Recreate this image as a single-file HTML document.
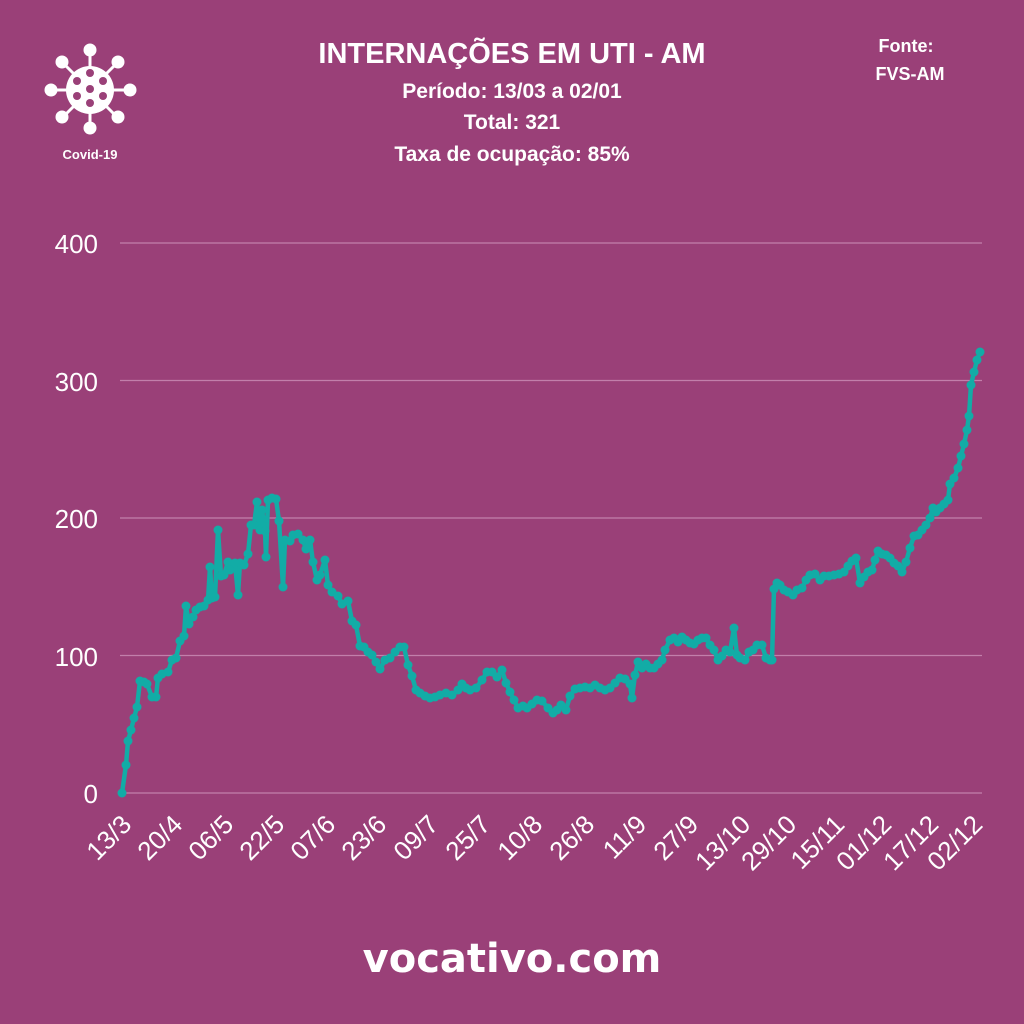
<!DOCTYPE html>
<html><head><meta charset="utf-8"><style>
body{margin:0;background:#9a4078;}
svg{display:block}
text{font-family:"Liberation Sans",sans-serif;fill:#fff}
</style></head><body>
<svg width="1024" height="1024" viewBox="0 0 1024 1024">
<defs>
<marker id="m" markerUnits="userSpaceOnUse" markerWidth="12" markerHeight="12" refX="6" refY="6"><circle cx="6" cy="6" r="4.5" fill="#12aca6"/></marker>
</defs>
<rect width="1024" height="1024" fill="#9a4078"/>
<g stroke="#fff" stroke-width="3" fill="#fff">
<line x1="90" y1="52" x2="90" y2="128"/><line x1="52" y1="90" x2="128" y2="90"/>
<line x1="63" y1="63" x2="117" y2="117"/><line x1="117" y1="63" x2="63" y2="117"/>
<circle cx="90" cy="50" r="5"/><circle cx="90" cy="128" r="5"/><circle cx="51" cy="90" r="5"/><circle cx="130" cy="90" r="5"/>
<circle cx="62" cy="62" r="5"/><circle cx="118" cy="62" r="5"/><circle cx="62" cy="117" r="5"/><circle cx="118" cy="117" r="5"/>
<circle cx="90" cy="90" r="24" stroke="none"/>
</g>
<g fill="#9a4078"><circle cx="90" cy="73" r="4"/><circle cx="77" cy="81" r="4"/><circle cx="103" cy="81" r="4"/><circle cx="90" cy="89" r="4"/><circle cx="77" cy="96" r="4"/><circle cx="103" cy="96" r="4"/><circle cx="90" cy="103" r="4"/></g>
<text x="90" y="159" font-size="13" font-weight="bold" text-anchor="middle">Covid-19</text>
<text x="512" y="63" font-size="29" font-weight="bold" text-anchor="middle">INTERNAÇÕES EM UTI - AM</text>
<text x="512" y="98" font-size="21" font-weight="bold" text-anchor="middle">Período: 13/03 a 02/01</text>
<text x="512" y="129" font-size="21" font-weight="bold" text-anchor="middle">Total: 321</text>
<text x="512" y="161" font-size="21" font-weight="bold" text-anchor="middle">Taxa de ocupação: 85%</text>
<text x="906" y="52" font-size="18" font-weight="bold" text-anchor="middle">Fonte:</text>
<text x="910" y="80" font-size="18" font-weight="bold" text-anchor="middle">FVS-AM</text>
<g stroke="#c27fab" stroke-width="1.2">
<line x1="120" y1="243" x2="982" y2="243"/><line x1="120" y1="380.5" x2="982" y2="380.5"/>
<line x1="120" y1="518" x2="982" y2="518"/><line x1="120" y1="655.5" x2="982" y2="655.5"/><line x1="120" y1="793" x2="982" y2="793"/>
</g>
<g font-size="26" text-anchor="end">
<text x="98" y="253">400</text><text x="98" y="391">300</text><text x="98" y="528">200</text><text x="98" y="666">100</text><text x="98" y="803">0</text>
</g>
<g font-size="26" text-anchor="end">
<text transform="translate(133,826) rotate(-45)">13/3</text>
<text transform="translate(184,826) rotate(-45)">20/4</text>
<text transform="translate(235,826) rotate(-45)">06/5</text>
<text transform="translate(286,826) rotate(-45)">22/5</text>
<text transform="translate(337,826) rotate(-45)">07/6</text>
<text transform="translate(388,826) rotate(-45)">23/6</text>
<text transform="translate(440,826) rotate(-45)">09/7</text>
<text transform="translate(492,826) rotate(-45)">25/7</text>
<text transform="translate(544,826) rotate(-45)">10/8</text>
<text transform="translate(596,826) rotate(-45)">26/8</text>
<text transform="translate(648,826) rotate(-45)">11/9</text>
<text transform="translate(700,826) rotate(-45)">27/9</text>
<text transform="translate(752,826) rotate(-45)">13/10</text>
<text transform="translate(798,826) rotate(-45)">29/10</text>
<text transform="translate(846,826) rotate(-45)">15/11</text>
<text transform="translate(893,826) rotate(-45)">01/12</text>
<text transform="translate(940,826) rotate(-45)">17/12</text>
<text transform="translate(984,826) rotate(-45)">02/12</text>
</g>
<polyline fill="none" stroke="#12aca6" stroke-width="4.5" stroke-linejoin="round" marker-start="url(#m)" marker-mid="url(#m)" marker-end="url(#m)" points="122,793 126,765 128,741 131,730 134,718 137,707 140,681 144,682 147,684 152,697 156,697 158,678 162,674 168,672 172,660 176,658 180,641 184,636 186,606 189,624 193,617 196,610 200,607 204,606 208,600 210,567 212,598 215,597 218,530 221,576 224,575 228,562 230,570 235,563 238,595 240,563 244,565 248,554 251,525 254,525 257,502 260,530 262,510 265,531 266,557 268,500 272,498 276,499 279,521 283,587 285,540 290,541 293,535 298,534 303,540 306,549 310,540 313,562 317,580 320,575 325,560 328,585 332,592 338,596 342,604 348,601 352,621 356,625 360,646 364,647 368,652 372,655 376,662 380,669 385,660 390,658 395,652 400,647 404,647 408,665 412,676 416,690 420,693 425,696 430,698 435,697 440,695 446,693 452,695 458,690 462,684 466,688 470,690 476,688 482,680 487,672 492,672 497,677 502,670 506,683 510,692 514,700 518,708 523,706 527,708 532,704 537,700 542,701 548,708 553,713 557,710 561,705 566,710 570,696 575,689 580,688 585,687 590,688 595,685 600,688 605,690 610,688 615,683 620,678 625,679 630,684 632,698 635,675 638,662 642,668 646,664 650,668 654,668 658,664 662,660 665,650 670,640 674,638 678,642 682,637 686,640 690,643 694,644 698,640 702,638 706,638 710,645 714,650 718,660 722,656 726,650 730,652 734,628 737,655 740,658 745,660 749,652 753,650 757,645 762,645 766,658 770,660 772,660 774,589 777,583 780,585 784,590 788,592 793,595 797,590 802,588 806,580 810,575 815,574 820,580 824,576 829,576 834,575 839,574 844,572 848,566 852,561 856,558 860,583 864,577 868,572 872,570 875,560 878,551 882,554 886,555 890,558 894,563 898,566 902,572 906,562 910,548 914,536 918,535 922,530 926,525 930,518 933,508 936,512 940,508 944,504 948,500 950,484 954,478 958,468 961,456 964,444 967,430 969,416 971,385 974,372 977,360 980,352"/>
<text x="512" y="972" font-size="40" font-weight="bold" text-anchor="middle" style="font-family:'DejaVu Sans','Liberation Sans',sans-serif">vocativo.com</text>
</svg>
</body></html>
